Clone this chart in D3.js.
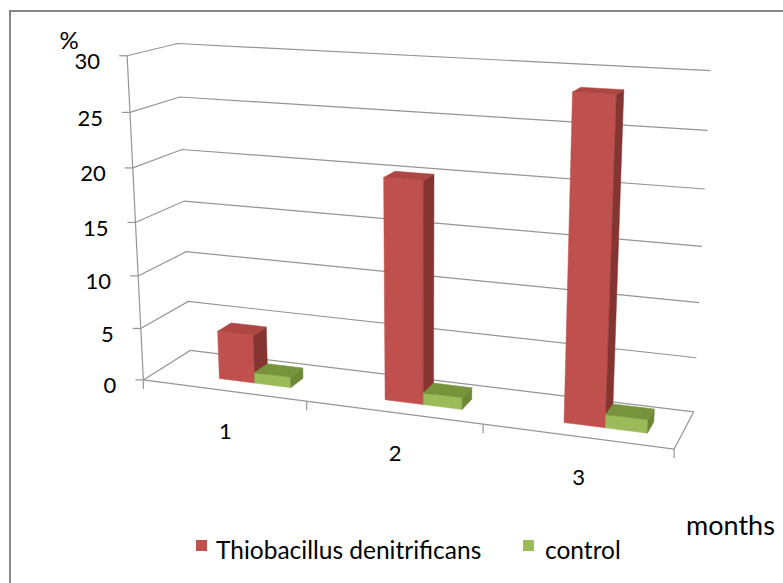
<!DOCTYPE html>
<html>
<head>
<meta charset="utf-8">
<script src="https://cdn.jsdelivr.net/npm/d3@7"></script>
<style>
  body { margin: 0; background: #ffffff; }
  svg { display: block; }
  text { font-family: Lato, "Open Sans", "Liberation Sans", sans-serif; fill: #000; }
</style>
</head>
<body>
<div id="chart"></div>
<script>
// ---------------- data ----------------
const categories = ["1", "2", "3"];
const seriesNames = ["Thiobacillus denitrificans", "control"];
const thiobacillus = [4.6, 20.3, 28.6];
const control = [1.0, 1.1, 1.2];
const yTicks = [0, 5, 10, 15, 20, 25, 30];
const yLabel = "%";
const xLabel = "months";

// ---------------- layout ----------------
const W = 783, H = 583;
const colors = {
  "Thiobacillus denitrificans": { front: "#C0504D", side: "#843431", top: "#AE4744" },
  "control": { front: "#9BBB59", side: "#6C8836", top: "#77933C" }
};
// camera calibration: plot-box corners (category units, depth 0..1, height 0..1) -> screen
const calib = [
  [[0, 0, 0], [143, 381]], [[0, 0, 1], [128, 56]],
  [[0, 1, 0], [192, 350]], [[0, 1, 1], [177, 43]],
  [[3, 1, 0], [693, 412]], [[3, 1, 1], [710, 71]],
  [[3, 0, 0], [675, 448]], [[1, 0, 0], [305, 401.5]],
  [[2, 0, 0], [483, 424]], [[0, 1, 0.5], [183, 201]],
  [[3, 1, 0.5], [703, 247]], [[0, 0, 0.5], [136, 222]]
];
const depthRange = [0.30, 0.60];
const clusterWidth = 0.44, clusterShift = 0.11;

function fitProjection(pts) {
  const rows = [], rhs = [];
  pts.forEach(([[X, Y, Z], [x0, y0]]) => {
    const x = (x0 - 400) / 400, y = (y0 - 250) / 400;
    rows.push([X, Y, Z, 1, 0, 0, 0, 0, -x * X, -x * Y, -x * Z]); rhs.push(x);
    rows.push([0, 0, 0, 0, X, Y, Z, 1, -y * X, -y * Y, -y * Z]); rhs.push(y);
  });
  const n = 11;
  const M = Array.from({ length: n }, () => new Array(n + 1).fill(0));
  rows.forEach((r, k) => {
    for (let i = 0; i < n; i++) {
      for (let j = 0; j < n; j++) M[i][j] += r[i] * r[j];
      M[i][n] += r[i] * rhs[k];
    }
  });
  for (let i = 0; i < n; i++) {
    let piv = i;
    for (let r = i + 1; r < n; r++) if (Math.abs(M[r][i]) > Math.abs(M[piv][i])) piv = r;
    [M[i], M[piv]] = [M[piv], M[i]];
    for (let r = 0; r < n; r++) {
      if (r === i) continue;
      const f = M[r][i] / M[i][i];
      for (let c = i; c <= n; c++) M[r][c] -= f * M[i][c];
    }
  }
  return M.map((row, i) => row[n] / row[i]);
}
const P = fitProjection(calib);
function project(u, w, t) {
  const d = P[8] * u + P[9] * w + P[10] * t + 1;
  const x = (P[0] * u + P[1] * w + P[2] * t + P[3]) / d;
  const y = (P[4] * u + P[5] * w + P[6] * t + P[7]) / d;
  return [x * 400 + 400, y * 400 + 250];
}

// ---------------- scales ----------------
const xBand = d3.scaleBand().domain(categories).range([0, 3]).padding(0);
const yScale = d3.scaleLinear().domain([0, 30]).range([0, 1]);

const svg = d3.select("#chart").append("svg").attr("width", W).attr("height", H);

// frame
svg.append("rect").attr("x", 10).attr("y", 11).attr("width", 1000).attr("height", 1000)
  .attr("fill", "none").attr("stroke", "#878787").attr("stroke-width", 2);

const line = d3.line();
const grid = svg.append("g").attr("fill", "none").attr("stroke", "#959595").attr("stroke-width", 1.2);
const uMax = xBand.range()[1];

// gridlines: side wall + back wall
yTicks.forEach(v => {
  const t = yScale(v);
  grid.append("path").attr("d", line([project(0, 0, t), project(0, 1, t), project(uMax, 1, t)]));
});
// floor front and right edges
grid.append("path").attr("d", line([project(0, 0, 0), project(uMax, 0, 0), project(uMax, 1, 0)]));
// vertical axis
grid.append("path").attr("d", line([project(0, 0, yScale(0)), project(0, 0, yScale(30))]));
// y ticks
yTicks.forEach(v => {
  const [x, y] = project(0, 0, yScale(v));
  grid.append("path").attr("d", line([[x - 8, y], [x, y]]));
});
// category ticks
const boundaries = categories.map(c => xBand(c)).concat([uMax]);
boundaries.forEach(u => {
  const [x, y] = project(u, 0, 0);
  grid.append("path").attr("d", line([[x, y], [x, y + 9]]));
});

// y tick labels
yTicks.forEach(v => {
  const [x, y] = project(0, 0, yScale(v));
  svg.append("text").attr("x", x - 27).attr("y", y + 5)
    .attr("text-anchor", "end").attr("dominant-baseline", "central")
    .attr("font-size", 22).text(v);
});
// category labels
categories.forEach(c => {
  const [x, y] = project(xBand(c) + xBand.bandwidth() / 2, 0, 0);
  svg.append("text").attr("x", x + 2).attr("y", y + 40)
    .attr("text-anchor", "middle").attr("dominant-baseline", "central")
    .attr("font-size", 22).text(c);
});

// bars
const seriesValues = { "Thiobacillus denitrificans": thiobacillus, "control": control };
const barsG = svg.append("g");
categories.forEach((c, ci) => {
  const center = xBand(c) + xBand.bandwidth() * (0.5 + clusterShift);
  const inner = d3.scaleBand().domain(seriesNames)
    .range([center - clusterWidth / 2, center + clusterWidth / 2]).padding(0);
  seriesNames.forEach(s => {
    const u0 = inner(s), u1 = u0 + inner.bandwidth();
    const [w0, w1] = depthRange;
    const t = yScale(seriesValues[s][ci]);
    const col = colors[s];
    const faces = [
      { pts: [[u0, w0, 0], [u1, w0, 0], [u1, w0, t], [u0, w0, t]], fill: col.front },
      { pts: [[u1, w0, 0], [u1, w1, 0], [u1, w1, t], [u1, w0, t]], fill: col.side },
      { pts: [[u0, w0, t], [u1, w0, t], [u1, w1, t], [u0, w1, t]], fill: col.top }
    ];
    faces.forEach(f => {
      barsG.append("path")
        .attr("d", line(f.pts.map(p => project(...p))) + "Z")
        .attr("fill", f.fill).attr("stroke", f.fill).attr("stroke-width", 0.5);
    });
  });
});

// axis titles
svg.append("text").attr("x", 69).attr("y", 39).attr("text-anchor", "middle")
  .attr("dominant-baseline", "central").attr("font-size", 24).text(yLabel);
svg.append("text").attr("x", 686).attr("y", 524).attr("dominant-baseline", "central")
  .attr("font-size", 27).text(xLabel);

// legend
const legendPos = [{ sx: 196, tx: 216 }, { sx: 523, tx: 545 }];
seriesNames.forEach((s, i) => {
  svg.append("rect").attr("x", legendPos[i].sx).attr("y", 540).attr("width", 11).attr("height", 11)
    .attr("fill", colors[s].front);
  svg.append("text").attr("x", legendPos[i].tx).attr("y", 549).attr("dominant-baseline", "central")
    .attr("font-size", 24.5).text(s);
});
</script>
</body>
</html>
